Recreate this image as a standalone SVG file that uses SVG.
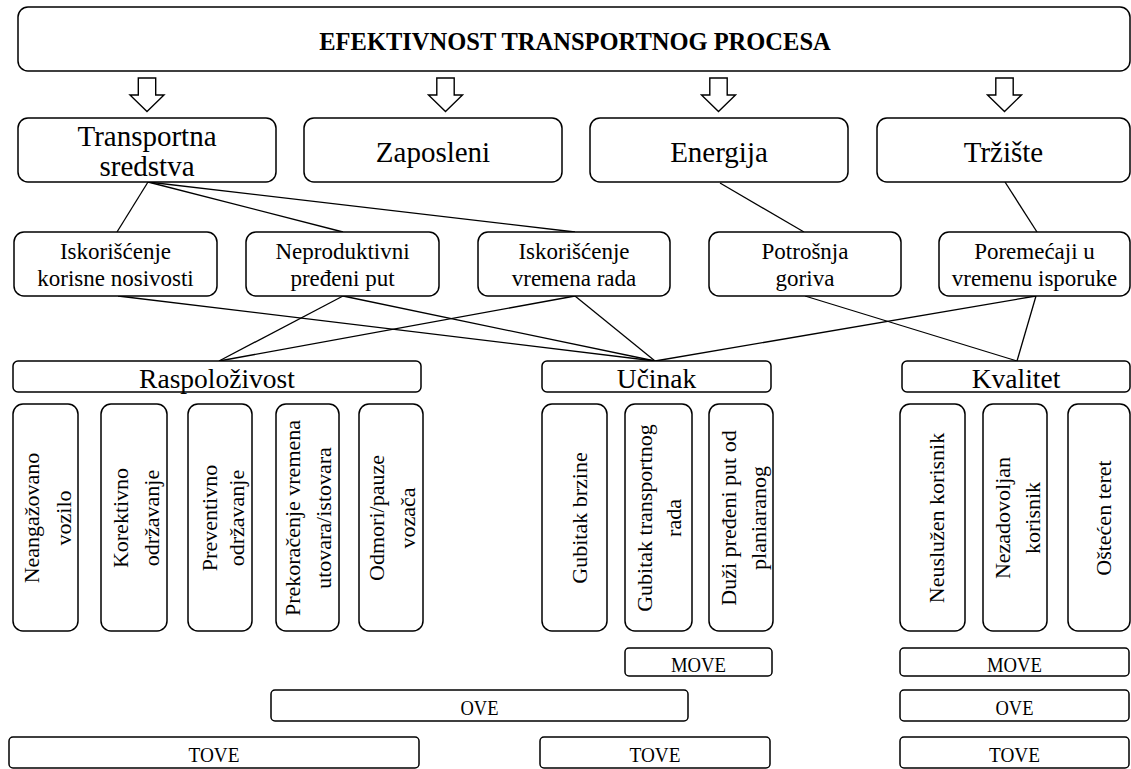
<svg xmlns="http://www.w3.org/2000/svg" width="1131" height="769" viewBox="0 0 1131 769">
  <style>
    .box { fill: #fff; stroke: #000; stroke-width: 1.5; }
    .arrow { fill: #fff; stroke: #000; stroke-width: 1.4; stroke-linejoin: miter; }
    .t { font-family: "Liberation Serif", "Times New Roman", serif; fill: #000; text-anchor: middle; }
    .title { font-size: 24.5px; font-weight: bold; }
    .l2 { font-size: 29px; }
    .l3 { font-size: 23px; }
    .l4 { font-size: 27.5px; }
    .v { font-size: 22px; }
    .b { font-size: 22px; }
    #connectors line { stroke: #000; stroke-width: 1.3; }
  </style>
  <defs>
    <!-- hollow block arrow, drawn around x = 0 -->
    <path id="downArrow" class="arrow" d="M -8.7 78 L 8.7 78 L 8.7 95 L 17 95 L 0 111.5 L -17 95 L -8.7 95 Z"/>
  </defs>

  <rect width="1131" height="769" fill="#fff"/>

  <!-- connectors -->
  <g id="connectors">
    <line x1="148" y1="182" x2="117" y2="232"/>
    <line x1="148" y1="182" x2="343" y2="232"/>
    <line x1="148" y1="182" x2="575" y2="232"/>
    <line x1="720" y1="183" x2="804" y2="232"/>
    <line x1="1005" y1="182" x2="1037" y2="232"/>
    <line x1="118" y1="296" x2="655" y2="361"/>
    <line x1="343" y1="296" x2="219" y2="361"/>
    <line x1="343" y1="296" x2="655" y2="361"/>
    <line x1="575" y1="296" x2="219" y2="361"/>
    <line x1="575" y1="296" x2="655" y2="361"/>
    <line x1="805" y1="296" x2="1017" y2="361"/>
    <line x1="1036" y1="296" x2="655" y2="361"/>
    <line x1="1036" y1="296" x2="1017" y2="361"/>
  </g>

  <!-- arrows from the title -->
  <g id="arrows">
    <use href="#downArrow" x="147"/>
    <use href="#downArrow" x="445.5"/>
    <use href="#downArrow" x="718.5"/>
    <use href="#downArrow" x="1004.5"/>
  </g>

  <!-- title -->
  <g id="title">
    <rect class="box" x="18" y="7" width="1112" height="64" rx="10"/>
    <text class="t title" x="575" y="50">EFEKTIVNOST TRANSPORTNOG PROCESA</text>
  </g>

  <!-- level 2 -->
  <g id="transportna-sredstva">
    <rect class="box" x="18" y="118" width="258" height="64" rx="10"/>
    <text class="t l2" x="147" y="146">Transportna</text>
    <text class="t l2" x="147" y="176">sredstva</text>
  </g>
  <g id="zaposleni">
    <rect class="box" x="304" y="118" width="258" height="64" rx="10"/>
    <text class="t l2" x="433" y="162">Zaposleni</text>
  </g>
  <g id="energija">
    <rect class="box" x="590" y="118" width="258" height="64" rx="10"/>
    <text class="t l2" x="719" y="162">Energija</text>
  </g>
  <g id="trziste">
    <rect class="box" x="877" y="118" width="253" height="64" rx="10"/>
    <text class="t l2" x="1003.5" y="162">Tržište</text>
  </g>

  <!-- level 3 -->
  <g id="iskoriscenje-nosivosti">
    <rect class="box" x="14" y="232" width="203" height="64" rx="10"/>
    <text class="t l3" x="115.5" y="259">Iskorišćenje</text>
    <text class="t l3" x="115.5" y="286">korisne nosivosti</text>
  </g>
  <g id="neproduktivni-put">
    <rect class="box" x="246" y="232" width="193" height="64" rx="10"/>
    <text class="t l3" x="342.5" y="259">Neproduktivni</text>
    <text class="t l3" x="342.5" y="286">pređeni put</text>
  </g>
  <g id="iskoriscenje-vremena">
    <rect class="box" x="478" y="232" width="192" height="64" rx="10"/>
    <text class="t l3" x="574" y="259">Iskorišćenje</text>
    <text class="t l3" x="574" y="286">vremena rada</text>
  </g>
  <g id="potrosnja-goriva">
    <rect class="box" x="709" y="232" width="192" height="64" rx="10"/>
    <text class="t l3" x="805" y="259">Potrošnja</text>
    <text class="t l3" x="805" y="286">goriva</text>
  </g>
  <g id="poremecaji">
    <rect class="box" x="939" y="232" width="191" height="64" rx="10"/>
    <text class="t l3" x="1034.5" y="259">Poremećaji u</text>
    <text class="t l3" x="1034.5" y="286">vremenu isporuke</text>
  </g>

  <!-- level 4 -->
  <g id="raspolozivost">
    <rect class="box" x="13" y="361" width="408" height="31" rx="5"/>
    <text class="t l4" x="217" y="388">Raspoloživost</text>
  </g>
  <g id="ucinak">
    <rect class="box" x="542" y="361" width="229" height="31" rx="5"/>
    <text class="t l4" x="656.5" y="388">Učinak</text>
  </g>
  <g id="kvalitet">
    <rect class="box" x="902" y="361" width="228" height="31" rx="5"/>
    <text class="t l4" x="1016" y="388">Kvalitet</text>
  </g>

  <!-- level 5: vertical cards -->
  <g id="neangazovano-vozilo">
    <rect class="box" x="13" y="404" width="65" height="227" rx="10"/>
    <text class="t v" transform="translate(45.5 518) rotate(-90)"><tspan x="0" y="-6.5">Neangažovano</tspan><tspan x="0" y="25.5">vozilo</tspan></text>
  </g>
  <g id="korektivno-odrzavanje">
    <rect class="box" x="101" y="404" width="66" height="227" rx="10"/>
    <text class="t v" transform="translate(134 518) rotate(-90)"><tspan x="0" y="-6">Korektivno</tspan><tspan x="0" y="24.5">održavanje</tspan></text>
  </g>
  <g id="preventivno-odrzavanje">
    <rect class="box" x="188" y="404" width="64" height="227" rx="10"/>
    <text class="t v" transform="translate(220 518) rotate(-90)"><tspan x="0" y="-3">Preventivno</tspan><tspan x="0" y="24">održavanje</tspan></text>
  </g>
  <g id="prekoracenje-vremena">
    <rect class="box" x="276" y="404" width="63" height="227" rx="10"/>
    <text class="t v" transform="translate(307.5 518) rotate(-90)"><tspan x="0" y="-8">Prekoračenje vremena</tspan><tspan x="0" y="23.5">utovara/istovara</tspan></text>
  </g>
  <g id="odmori-pauze">
    <rect class="box" x="359" y="404" width="64" height="227" rx="10"/>
    <text class="t v" transform="translate(391 518) rotate(-90)"><tspan x="0" y="-7.5">Odmori/pauze</tspan><tspan x="0" y="24">vozača</tspan></text>
  </g>
  <g id="gubitak-brzine">
    <rect class="box" x="542" y="404" width="65" height="227" rx="10"/>
    <text class="t v" transform="translate(574.5 518) rotate(-90)" y="12">Gubitak brzine</text>
  </g>
  <g id="gubitak-transportnog-rada">
    <rect class="box" x="625" y="404" width="67" height="227" rx="10"/>
    <text class="t v" transform="translate(658.5 518) rotate(-90)"><tspan x="0" y="-7">Gubitak transportnog</tspan><tspan x="0" y="22.5">rada</tspan></text>
  </g>
  <g id="duzi-predjeni-put">
    <rect class="box" x="709" y="404" width="64" height="227" rx="10"/>
    <text class="t v" transform="translate(741 518) rotate(-90)"><tspan x="0" y="-5">Duži pređeni put od</tspan><tspan x="0" y="25">planiaranog</tspan></text>
  </g>
  <g id="neusluzen-korisnik">
    <rect class="box" x="900" y="404" width="65" height="227" rx="10"/>
    <text class="t v" transform="translate(932.5 518) rotate(-90)" y="11.5">Neuslužen korisnik</text>
  </g>
  <g id="nezadovoljan-korisnik">
    <rect class="box" x="983" y="404" width="64" height="227" rx="10"/>
    <text class="t v" transform="translate(1015 518) rotate(-90)"><tspan x="0" y="-5">Nezadovoljan</tspan><tspan x="0" y="25">korisnik</tspan></text>
  </g>
  <g id="osteceni-teret">
    <rect class="box" x="1068" y="404" width="62" height="227" rx="10"/>
    <text class="t v" transform="translate(1099 518) rotate(-90)" y="12">Oštećen teret</text>
  </g>

  <!-- indicator bars -->
  <g id="move-ucinak">
    <rect class="box" x="625" y="648" width="147" height="28" rx="4"/>
    <text class="t b" x="698.5" y="672" textLength="55" lengthAdjust="spacingAndGlyphs">MOVE</text>
  </g>
  <g id="move-kvalitet">
    <rect class="box" x="900" y="648" width="229" height="28" rx="4"/>
    <text class="t b" x="1014.5" y="672" textLength="55" lengthAdjust="spacingAndGlyphs">MOVE</text>
  </g>
  <g id="ove-raspolozivost-ucinak">
    <rect class="box" x="271" y="690" width="417" height="31" rx="4"/>
    <text class="t b" x="479.5" y="715" textLength="38" lengthAdjust="spacingAndGlyphs">OVE</text>
  </g>
  <g id="ove-kvalitet">
    <rect class="box" x="900" y="690" width="229" height="31" rx="4"/>
    <text class="t b" x="1014.5" y="715" textLength="38" lengthAdjust="spacingAndGlyphs">OVE</text>
  </g>
  <g id="tove-raspolozivost">
    <rect class="box" x="9" y="737" width="410" height="31" rx="4"/>
    <text class="t b" x="214" y="762" textLength="51" lengthAdjust="spacingAndGlyphs">TOVE</text>
  </g>
  <g id="tove-ucinak">
    <rect class="box" x="540" y="737" width="230" height="31" rx="4"/>
    <text class="t b" x="655" y="762" textLength="51" lengthAdjust="spacingAndGlyphs">TOVE</text>
  </g>
  <g id="tove-kvalitet">
    <rect class="box" x="900" y="737" width="229" height="31" rx="4"/>
    <text class="t b" x="1014.5" y="762" textLength="51" lengthAdjust="spacingAndGlyphs">TOVE</text>
  </g>
</svg>
